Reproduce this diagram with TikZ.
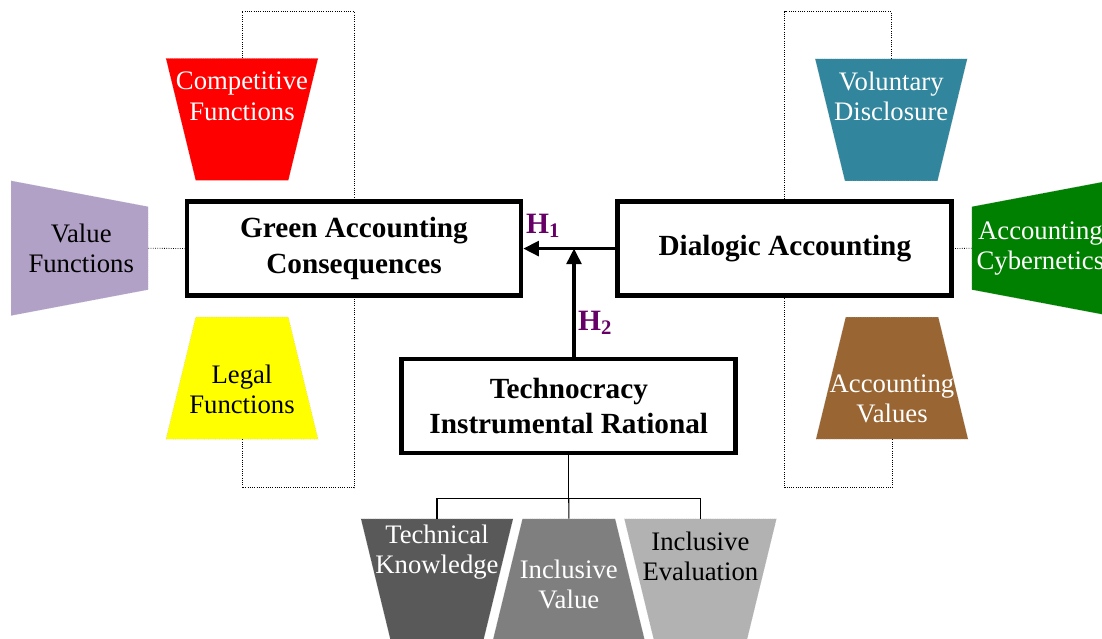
\documentclass[tikz,border=0pt]{standalone}
\usepackage{fontspec}
\setmainfont{Liberation Serif}
\usepackage{tikz}
\usetikzlibrary{shapes.geometric,arrows.meta}
\definecolor{compred}{HTML}{FF0000}
\definecolor{legalyellow}{HTML}{FFFF00}
\definecolor{valuelilac}{HTML}{B2A1C7}
\definecolor{volteal}{HTML}{31859C}
\definecolor{cybgreen}{HTML}{008000}
\definecolor{accbrown}{HTML}{996633}
\definecolor{techgray}{HTML}{595959}
\definecolor{incvgray}{HTML}{7F7F7F}
\definecolor{incegray}{HTML}{B2B2B2}
\definecolor{hpurple}{HTML}{660066}
\newcommand{\cpurple}[1]{\textcolor{hpurple}{#1}}
\newcommand{\lblfont}{\fontsize{19}{21.5}\selectfont}
\newcommand{\boxfont}{\fontsize{20.8}{25.5}\selectfont\bfseries}

\begin{document}
\begin{tikzpicture}[
  box/.style = {draw, line width=3.3pt, minimum width=8.35cm,
    minimum height=2.35cm, align=center, font=\boxfont},
  trap/.style = {trapezium, inner sep=0pt, trapezium angle=76.3,
    text width=2.315cm, text height=3.05cm, text depth=0pt,
    draw=gray!50, densely dotted, line width=0.3pt},
  sidetrap/.style = {trap, trapezium angle=79.3, text width=2.075cm,
    text height=3.425cm},
  lbl/.style = {align=center, font=\lblfont, inner sep=0pt},
  hlbl/.style = {font=\fontsize{21}{21}\selectfont\bfseries},
  dotlink/.style = {densely dotted, line width=0.6pt},
  hyp/.style = {-{Triangle[length=11pt,width=10.5pt]}, line width=2.2pt},
  treelink/.style = {line width=0.8pt}]
  \useasboundingbox (0,0) rectangle (27.55,15.975);

  % main blocks
  \node[box] (green) at (8.85,9.76) {Green Accounting\\Consequences};
  \node[box] (dial) at (19.62,9.76) {Dialogic Accounting};
  \node[box] (techno) at (14.22,5.825) {Technocracy\\Instrumental Rational};

  % left side
  \node[trap, fill=compred, shape border rotate=180] (comp) at (6.05,12.99) {};
  \node[lbl, white] (compt) at (6.05,13.57) {Competitive\\Functions};
  \node[trap, fill=legalyellow] (legal) at (6.05,6.52) {};
  \node[lbl] (legalt) at (6.05,6.25) {Legal\\Functions};
  \node[sidetrap, fill=valuelilac, rotate=-90] (value) at (1.99,9.77) {};
  \node[lbl] (valuet) at (2.03,9.77) {Value\\Functions};

  % right side
  \node[trap, fill=volteal, shape border rotate=180] (vol) at (22.28,12.98) {};
  \node[lbl, white] (volt) at (22.28,13.57) {Voluntary\\Disclosure};
  \node[trap, fill=accbrown] (accv) at (22.3,6.52) {};
  \node[lbl, white] (accvt) at (22.3,6.0) {Accounting\\Values};
  \node[sidetrap, fill=cybgreen, rotate=90] (cyb) at (26.01,9.77) {};
  \node[lbl, white] (cybt) at (26.01,9.77) {Accounting\\Cybernetics};

  % bottom
  \node[trap, fill=techgray, shape border rotate=180] (tech) at (10.925,1.48) {};
  \node[lbl, white] (techt) at (10.925,2.175) {Technical\\Knowledge};
  \node[trap, fill=incvgray] (incv) at (14.22,1.48) {};
  \node[lbl, white] (incvt) at (14.22,1.36) {Inclusive\\Value};
  \node[trap, fill=incegray, shape border rotate=180] (ince) at (17.51,1.48) {};
  \node[lbl] (incet) at (17.51,2.075) {Inclusive\\Evaluation};

  % hypotheses
  \draw[hyp] (dial.west) -- (green.east);
  \draw[hyp] ([xshift=1.3mm]techno.north) -- ([xshift=1.3mm]techno.north |- dial.west);
  \node[hlbl] (h1) at (13.58,10.33) {\cpurple{H\textsubscript{1}}};
  \node[hlbl] (h2) at (14.88,7.9) {\cpurple{H\textsubscript{2}}};

  % dotted links
  \draw[dotlink] (comp.north) -- ++(0,1.17) -| (green.north);
  \draw[dotlink] (legal.south) -- ++(0,-1.21) -| (green.south);
  \draw[dotlink] (value.north) -- (green.west);
  \draw[dotlink] (vol.north) -- ++(0,1.17) -| (dial.north);
  \draw[dotlink] (accv.south) -- ++(0,-1.21) -| (dial.south);
  \draw[dotlink] (cyb.north) -- (dial.east);

  % tree below technocracy
  \coordinate (split) at ([yshift=-1.07cm]techno.south);
  \draw[treelink] (techno.south) -- (split);
  \draw[treelink] (split) -| (tech.north);
  \draw[treelink] (split) -- (incv.north);
  \draw[treelink] (split) -| (ince.north);
\end{tikzpicture}
\end{document}
